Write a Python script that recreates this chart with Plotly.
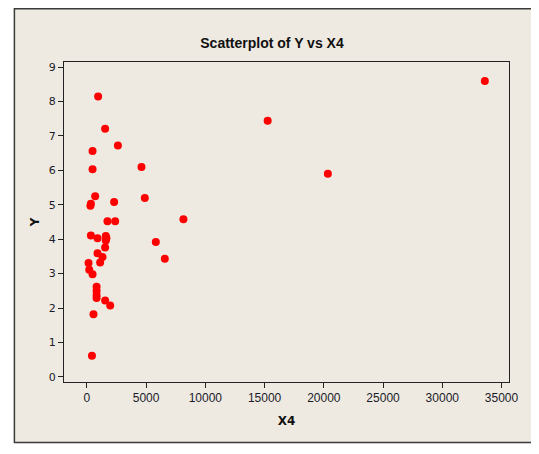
import plotly.graph_objects as go

x4 = [33590, 15260, 20340, 8150, 5820, 6580, 4610, 4890, 2620, 1540,
      950, 480, 480, 700, 340, 300, 2300, 1740, 2390, 340,
      900, 1600, 1650, 1600, 1540, 900, 1320, 1120, 140, 200,
      480, 820, 820, 820, 820, 1540, 1970, 560, 430]
y = [8.60, 7.44, 5.90, 4.58, 3.92, 3.43, 6.10, 5.20, 6.72, 7.21,
     8.15, 6.56, 6.03, 5.25, 5.03, 4.97, 5.08, 4.52, 4.52, 4.11,
     4.03, 4.09, 4.03, 3.96, 3.76, 3.59, 3.48, 3.32, 3.31, 3.11,
     2.98, 2.62, 2.50, 2.38, 2.29, 2.22, 2.07, 1.82, 0.61]

xticks = [0, 5000, 10000, 15000, 20000, 25000, 30000, 35000]
yticks = [0, 1, 2, 3, 4, 5, 6, 7, 8, 9]

fig = go.Figure(go.Scatter(
    x=x4, y=y, mode="markers",
    marker=dict(color="#FF0000", size=8, line=dict(width=0)),
))

# the page body adds an 8px offset; figure coordinates are screen minus 8
W, H = 531, 446
ml, mr, mt, mb = 55.6, 30.4, 54, 72
pw, ph = W - ml - mr, H - mt - mb

def px_to_paper_x(p):
    return (p - ml) / pw

def px_to_paper_y(p):
    return (H - mb - p) / ph

fig.add_shape(type="rect", xref="paper", yref="paper",
              x0=px_to_paper_x(6), x1=px_to_paper_x(524.5),
              y0=px_to_paper_y(434.5), y1=px_to_paper_y(0.8),
              fillcolor="#EEEAE1", line=dict(color="#3A3A3A", width=1.5),
              layer="below")

fig.update_layout(
    width=W, height=H,
    margin=dict(l=ml, r=mr, t=mt, b=mb, pad=0),
    paper_bgcolor="white",
    plot_bgcolor="white",
    showlegend=False,
    title=dict(text="<b>Scatterplot of Y vs X4</b>", x=264 / W, xref="container",
               y=1 - 35 / H, yref="container", yanchor="middle", xanchor="center",
               font=dict(family="Liberation Sans Narrow, Arial Narrow, sans-serif", size=14, color="#111111")),
    xaxis=dict(
        range=[-1930, 35630], tickvals=xticks, ticktext=[str(v) for v in xticks],
        showgrid=False, zeroline=False, showline=True, linecolor="#222222", linewidth=1,
        mirror=True, ticks="outside", ticklen=5, tickcolor="#222222",
        tickfont=dict(family="Liberation Sans Narrow, Arial Narrow, sans-serif", size=12, color="#1a1a2a"),
        title=dict(text="<b>X4</b>", standoff=12,
                   font=dict(family="DejaVu Sans, Verdana, sans-serif", size=12, color="#111111")),
    ),
    yaxis=dict(
        range=[-0.15, 9.15], tickvals=yticks,
        showgrid=False, zeroline=False, showline=True, linecolor="#222222", linewidth=1,
        mirror=True, ticks="outside", ticklen=5, tickcolor="#222222",
        tickfont=dict(family="DejaVu Sans, Verdana, sans-serif", size=11, color="#1a1a2a"),
        title=dict(text="<b>Y</b>", standoff=6,
                   font=dict(family="DejaVu Sans, Verdana, sans-serif", size=12, color="#111111")),
    ),
)

fig.write_html("out.html")
